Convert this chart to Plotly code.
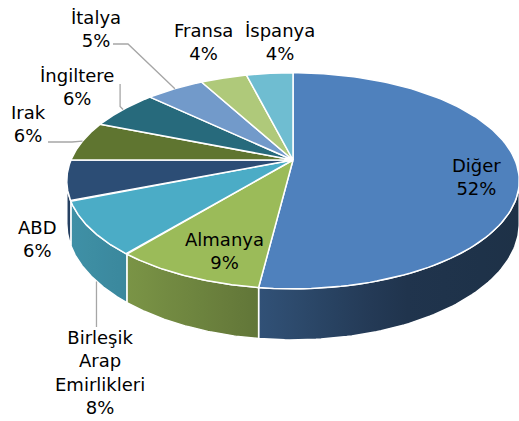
import numpy as np
import plotly.graph_objects as go

# ---- data ----
labels = ["Diğer", "Almanya", "Birleşik<br>Arap<br>Emirlikleri", "ABD", "Irak",
          "İngiltere", "İtalya", "Fransa", "İspanya"]
values = [52, 9, 8, 6, 6, 6, 5, 4, 4]
top_colors = ["#4F81BD", "#9BBB59", "#4BACC6", "#2C4D75", "#5F7530",
              "#276A7C", "#729ACA", "#AFC97A", "#6FBDD1"]

# ---- layout / geometry (pixel-space axes) ----
W, H = 519, 421
CX, CY = 293.0, 160.0       # pie centre (apex)
A, B = 222.0, 104.0         # horizontal / vertical radii
K = 0.1925                  # perspective factor
D = 41.3                    # thickness

label_pos = [(476, 177), (224, 251), (100, 372), (37, 239), (28, 124),
             (77, 87), (96, 29), (203, 42), (280, 42)]


def hex2rgb(h):
    h = h.lstrip("#")
    return tuple(int(h[i:i + 2], 16) for i in (0, 2, 4))


def shade(h, f):
    r, g, b = hex2rgb(h)
    return "rgb(%d,%d,%d)" % (int(r * f), int(g * f), int(b * f))


# lighting factor for side faces (lighter at left, darker at right)
light_x = [60, 130, 260, 400, 520]
light_f = [0.85, 0.79, 0.63, 0.41, 0.38]


def proj(theta_deg):
    t = np.radians(theta_deg)
    u, v = np.sin(t), np.cos(t)
    den = 1 + K * v
    return CX + A * u / den, CY - B * v / den, D / den


total = float(sum(values))
angles = [0.0]
for v in values:
    angles.append(angles[-1] + 360.0 * v / total)

vis_lo = np.degrees(np.arccos(-K))
vis_hi = 360.0 - vis_lo

fig = go.Figure()

# side faces
for i, (a0, a1) in enumerate(zip(angles[:-1], angles[1:])):
    s, e = max(a0, vis_lo), min(a1, vis_hi)
    if e <= s:
        continue
    th = np.linspace(s, e, 80)
    xt, yt, dd = proj(th)
    xs = np.concatenate([xt, xt[::-1], xt[:1]])
    ys = np.concatenate([yt, (yt + dd)[::-1], yt[:1]])
    x0, x1 = xs.min(), xs.max()
    stops = np.linspace(0, 1, 8)
    cs = [[float(p), shade(top_colors[i], float(np.interp(x0 + p * (x1 - x0), light_x, light_f)))]
          for p in stops]
    fig.add_trace(go.Scatter(
        x=xs, y=ys, mode="lines", fill="toself",
        fillgradient=dict(type="horizontal", colorscale=cs, start=x0, stop=x1),
        line=dict(color="white", width=1.5), hoverinfo="skip"))

# top faces
for i, (a0, a1) in enumerate(zip(angles[:-1], angles[1:])):
    th = np.linspace(a0, a1, 120)
    xt, yt, _ = proj(th)
    xs = np.concatenate([[CX], xt, [CX]])
    ys = np.concatenate([[CY], yt, [CY]])
    fig.add_trace(go.Scatter(
        x=xs, y=ys, mode="lines", fill="toself", fillcolor=top_colors[i],
        line=dict(color="white", width=1.5), hoverinfo="skip"))

# leader lines (from label to slice edge at mid-angle)
lead_color = "#A6A6A6"
mid = [(a0 + a1) / 2 for a0, a1 in zip(angles[:-1], angles[1:])]


def add_line(xs, ys):
    fig.add_trace(go.Scatter(x=xs, y=ys, mode="lines",
                             line=dict(color=lead_color, width=1.3), hoverinfo="skip"))


# İtalya
ex, ey, _ = proj(mid[6])
add_line([113, 128, ex], [44, 44, ey])
# İngiltere
ex, ey, _ = proj(mid[5])
add_line([ex - 3, ex - 3, ex], [84, ey - 3, ey])
# Irak
ex, ey, _ = proj(mid[4])
add_line([48, 72, ex], [142, 142, ey])
# BAE
ex, ey, dd = proj(mid[2])
add_line([ex + 6, ex + 6], [327, ey + dd + 6])

# labels
annos = []
for i, (lab, v) in enumerate(zip(labels, values)):
    x, y = label_pos[i]
    annos.append(dict(x=x, y=y, xref="x", yref="y", showarrow=False,
                      text="%s<br>%d%%" % (lab, round(100 * v / total)),
                      xanchor="center", yanchor="middle", align="center",
                      font=dict(family="DejaVu Sans", size=18, color="#000000")))

fig.update_layout(
    width=W, height=H, margin=dict(l=0, r=0, t=0, b=0),
    paper_bgcolor="white", plot_bgcolor="white", showlegend=False,
    xaxis=dict(range=[0, W], visible=False, fixedrange=True),
    yaxis=dict(range=[H, 0], visible=False, fixedrange=True),
    annotations=annos,
)

fig.write_html("out.html", config={"displayModeBar": False},
               post_script="document.body.style.margin='0px';document.body.style.overflow='hidden';")
